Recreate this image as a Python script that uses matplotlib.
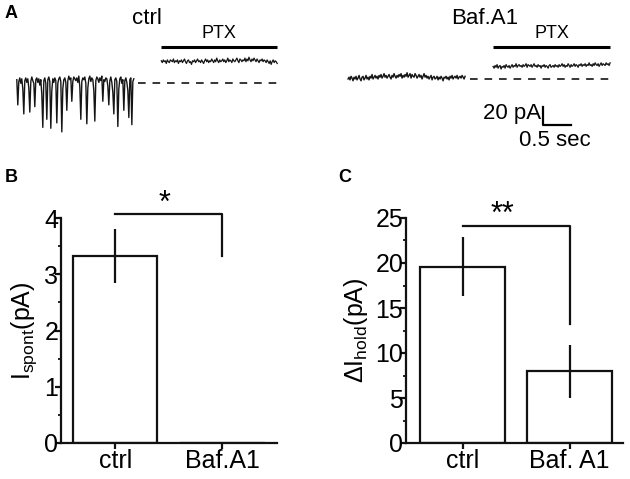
import numpy as np
import matplotlib
matplotlib.use("Agg")
from matplotlib import pyplot as plt

plt.rcParams['font.family'] = ['Liberation Sans', 'DejaVu Sans']
plt.rcParams['mathtext.default'] = 'regular'

# ---- panel A traces (pA, relative to the dashed baseline), one sample per ~18 ms
ctrl_pre = [4, -24, 2, 6, 0, 5, -6, -34, 3, 6,
            1, 5, -5, -32, 2, 7, 3, 0, -26, 4,
            6, 1, 5, -2, 4, -12, -49, 3, 6, 0,
            -40, 4, 7, 2, -50, -8, 5, 1, 6, 3,
            -44, 0, 5, 7, 2, -54, -6, 4, 6, 1,
            -30, 3, 8, 4, 6, -20, 2, 7, 5, 3,
            6, 1, 8, -4, -40, 2, 6, 4, 7, 0,
            -45, -5, 5, 8, 2, 6, 4, -8, -42, 3,
            7, 5, 1, 6, 3, 8, -20, 4, 2, 6,
            5, -3, -24, 3, 7, 1, -10, -34, 4, 6,
            2, -48, -6, 5, 7, 0, 4, -30, 3, 6,
            1, -8, -38, 4, 6, -46, 2, 5]
ctrl_ptx = [25, 23, 26, 24, 25, 22, 26, 24, 23, 26,
            25, 24, 27, 23, 25, 24, 26, 22, 25, 24,
            26, 23, 25, 27, 24, 22, 25, 26, 23, 24,
            21, 25, 24, 26, 23, 25, 27, 24, 25, 23,
            26, 24, 22, 25, 27, 24, 26, 23, 25, 24,
            27, 25, 23, 26, 24, 28, 25, 23, 26, 24,
            25, 27, 24, 26, 23, 25, 28, 24, 26, 25,
            23, 27, 25, 24, 26, 28, 25, 23, 27, 26,
            24, 26, 25, 28, 24, 27, 25, 29, 26, 24,
            27, 25, 28, 26, 24, 27, 25, 23, 26, 25,
            27, 24, 26, 25, 23, 26, 24, 22, 25, 21,
            24, 26, 23, 25, 24, 22]
baf_pre = [0, 2, -1, 3, 1, -2, 2, 0, 3, -1,
           1, 4, 0, -2, 2, 3, -1, 1, 4, 0,
           2, -1, 3, 1, 5, 0, 2, 4, 1, 3,
           0, 4, 2, 5, 1, 3, 6, 2, 4, 1,
           3, 5, 2, 0, 4, 2, 6, 3, 1, 4,
           2, 5, 3, 6, 1, 4, 2, 5, 3, 7,
           2, 4, 6, 1, 5, 3, 2, 6, 4, 1,
           3, 5, 2, 4, 0, 3, 6, 2, 4, 1,
           3, 0, 2, 4, -1, 2, 3, 0, 1, 3,
           -1, 2, 0, 3, 1, -2, 2, 1, 3, 0,
           2, -1, 3, 1, 4, 0, 2, 3, 1, 4,
           0, 2, 3, 1, 4, 2, 0, 3]
baf_ptx = [14, 12, 15, 13, 16, 12, 14, 15, 11, 14,
           13, 15, 12, 16, 14, 13, 15, 12, 14, 16,
           13, 15, 14, 17, 13, 15, 16, 14, 15, 13,
           16, 14, 15, 17, 13, 16, 15, 14, 16, 13,
           15, 17, 14, 15, 13, 16, 14, 15, 12, 15,
           14, 16, 13, 15, 14, 12, 15, 16, 13, 14,
           15, 13, 16, 14, 15, 13, 16, 14, 15, 17,
           14, 16, 13, 15, 14, 17, 15, 13, 16, 14,
           15, 17, 14, 16, 15, 13, 16, 15, 17, 14,
           16, 15, 17, 14, 16, 15, 18, 15, 16, 14,
           17, 15, 18, 16, 15, 17, 14, 16, 18, 15,
           17, 16, 15, 18, 16, 17, 15, 18]

# ---- panel B / C bar data
cats_b = ["ctrl", "Baf.A1"]
ispont_mean = [3.33, 0.0]
ispont_sem = [0.48, 0.0]

cats_c = ["ctrl", "Baf. A1"]
dhold_mean = [19.6, 7.95]
dhold_sem = [3.3, 2.95]

W, H = 630, 479
fig = plt.figure(figsize=(6.3, 4.79), dpi=100)


def px_axes(x0, y0, x1, y1):
    # axes from pixel box (top-left origin)
    return fig.add_axes([x0 / W, 1 - y1 / H, (x1 - x0) / W, (y1 - y0) / H])


# ---------------- panel A
def trace_panel(ax, base_px, pre, pre_t, ptx, ptx_t, dash_t, bar_px, label, label_t):
    pps, ppa = 56.0, 0.9  # px per sec, px per pA
    ax.set_xlim(0, 315 / pps)
    ax.set_ylim((base_px - 150) / ppa, base_px / ppa)
    ax.axis("off")
    ax.plot(np.linspace(pre_t[0], pre_t[1], len(pre)), pre, color="#151515", lw=1.0)
    ax.plot(np.linspace(ptx_t[0], ptx_t[1], len(ptx)), ptx, color="#151515", lw=0.9)
    ax.plot(dash_t, [0, 0], color="black", lw=1.1, dashes=[5, 4.5])
    bar_y = (base_px - bar_px) / ppa
    ax.plot(ptx_t, [bar_y, bar_y], color="black", lw=2.2, solid_capstyle="butt")
    ax.text(np.mean(ptx_t), bar_y + 5, "PTX", ha="center", va="bottom", fontsize=13)
    ax.text(label_t[0], label_t[1], label, ha="center", va="center", fontsize=16)


axA1 = px_axes(0, 0, 315, 150)
trace_panel(axA1, 83.3, ctrl_pre, (0.30, 2.39), ctrl_ptx, (2.88, 4.95),
            (2.46, 4.96), 47, "ctrl", (2.63, 72))
axA2 = px_axes(315, 0, 630, 150)
trace_panel(axA2, 79, baf_pre, (0.59, 2.68), baf_ptx, (3.18, 5.27),
            (2.77, 5.27), 47, "Baf.A1", (3.03, 67))

# scale bar: 20 pA, 0.5 sec
sx, sy = 4.07, -51
axA2.plot([sx, sx, sx + 0.5], [sy + 20, sy, sy], color="black", lw=1.6)
axA2.text(sx - 0.03, sy + 13, "20 pA", ha="right", va="center", fontsize=16)
axA2.text(sx + 0.22, sy - 17, "0.5 sec", ha="center", va="center", fontsize=16)

fig.text(5 / W, 1 - 14 / H, "A", fontsize=13, fontweight="bold", va="center")
fig.text(5 / W, 1 - 178 / H, "B", fontsize=13, fontweight="bold", va="center")
fig.text(338 / W, 1 - 178 / H, "C", fontsize=13, fontweight="bold", va="center")


# ---------------- panels B and C
def bar_panel(ax, cats, means, sems, ymax, ystep, minor, xlim, width, ylabel):
    x = np.arange(len(cats))
    ax.bar(x, means, width=width, color="white", edgecolor="#111111", linewidth=1.6)
    ax.errorbar(x, means, yerr=sems, fmt="none", ecolor="#111111", elinewidth=1.6, capsize=0)
    ax.set_xlim(*xlim)
    ax.set_ylim(0, ymax)
    ax.set_yticks(np.arange(0, ymax + 0.01, ystep))
    ax.set_yticks(np.arange(0, ymax + 0.01, minor), minor=True)
    ax.set_xticks(x)
    ax.set_xticklabels(cats)
    for s in ("top", "right"):
        ax.spines[s].set_visible(False)
    for s in ("left", "bottom"):
        ax.spines[s].set_linewidth(1.6)
        ax.spines[s].set_color("#111111")
    ax.tick_params(axis="both", which="major", direction="out", length=4, width=1.6,
                   labelsize=18, color="#111111")
    ax.tick_params(axis="y", which="major", pad=-2)
    ax.tick_params(axis="x", which="major", pad=0)
    ax.tick_params(axis="y", which="minor", length=2.5, width=1.2)
    ax.set_ylabel(ylabel, fontsize=18, labelpad=4)


def bracket(ax, level, leg_end, stars, sx, sy):
    ax.plot([0, 1, 1], [level, level, leg_end], color="#111111", lw=1.6, clip_on=False)
    ax.text(sx, sy, stars, ha="center", va="center", fontsize=22, clip_on=False)


axB = px_axes(61, 218, 277, 443)
bar_panel(axB, cats_b, ispont_mean, ispont_sem, 4, 1, 0.5, (-0.505, 1.51), 0.79,
          "I$_{spont}$(pA)")
bracket(axB, 4.07, 3.33, "*", 0.46, 4.25)

axC = px_axes(406, 218, 623, 443)
bar_panel(axC, cats_c, dhold_mean, dhold_sem, 25, 5, 2.5, (-0.53, 1.50), 0.80,
          "ΔI$_{hold}$(pA)")
bracket(axC, 24.1, 13.2, "**", 0.37, 25.3)

fig.savefig("out.png", dpi=100)
